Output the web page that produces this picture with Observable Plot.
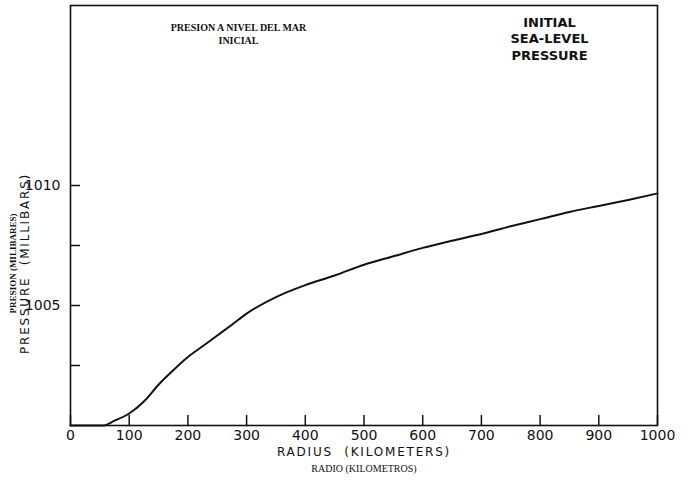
<!DOCTYPE html>
<html><head><meta charset="utf-8">
<script src="https://cdn.jsdelivr.net/npm/d3@7"></script>
<script src="https://cdn.jsdelivr.net/npm/@observablehq/plot@0.6"></script>
<style>body{margin:0;background:#fff} svg{display:block}</style>
</head><body><div id="chart"></div>
<script>
const radius = [0, 55, 75, 100, 125, 150, 175, 200, 225, 250, 275, 300, 350, 400, 450, 500, 550, 600, 650, 700, 750, 800, 850, 900, 950, 1000];
const pressure = [1000, 1000, 1000.2, 1000.5, 1001.0, 1001.7, 1002.3, 1002.85, 1003.3, 1003.75, 1004.2, 1004.66, 1005.35, 1005.85, 1006.25, 1006.7, 1007.05, 1007.4, 1007.7, 1007.98, 1008.3, 1008.6, 1008.9, 1009.15, 1009.4, 1009.67];
const xTickLabels = [0, 100, 200, 300, 400, 500, 600, 700, 800, 900, 1000];
const yTickValues = [1002.5, 1005, 1007.5, 1010];
const yTickLabels = [1005, 1010];
const xLabel = "RADIUS  (KILOMETERS)";
const xLabelEs = "RADIO (KILOMETROS)";
const yLabel = "PRESSURE  (MILLIBARS)";
const yLabelEs = "PRESION (MILIBARES)";
const noteEs = "PRESION A NIVEL DEL MAR\nINICIAL";
const noteEn = "INITIAL\nSEA-LEVEL\nPRESSURE";

const data = radius.map((r, i) => ({r, p: pressure[i]}));

const chart = Plot.plot({
  width: 691,
  height: 482,
  marginLeft: 70,
  marginRight: 34,
  marginTop: 5,
  marginBottom: 57,
  style: {fontFamily: "DejaVu Sans", color: "#111", background: "#fff", fontSize: "14px"},
  x: {domain: [0, 1000], ticks: xTickLabels, tickSize: -10, tickPadding: 15, tickFormat: d => String(d), label: null},
  y: {domain: [1000, 1017.5], ticks: yTickValues, tickSize: -10, tickPadding: 20, tickFormat: d => yTickLabels.includes(d) ? String(d) : "", label: null},
  marks: [
    Plot.frame({stroke: "#111", strokeWidth: 1.6}),
    Plot.line(data, {x: "r", y: "p", curve: "monotone-x", stroke: "#111", strokeWidth: 2}),
    Plot.text([xLabel], {text: d => d, frameAnchor: "bottom", dy: 30, fontSize: 12, fill: "#111"}),
    Plot.text([xLabelEs], {text: d => d, frameAnchor: "bottom", dy: 46, fontSize: 10, fontFamily: "Liberation Serif", fill: "#111"}),
    Plot.text([yLabel], {text: d => d, frameAnchor: "left", textAnchor: "middle", rotate: -90, dx: -45, dy: 48, fontSize: 12, fill: "#111"}),
    Plot.text([yLabelEs], {text: d => d, frameAnchor: "left", textAnchor: "middle", rotate: -90, dx: -57, dy: 48, fontSize: 9, fontWeight: "bold", fontFamily: "Liberation Serif", fill: "#111"}),
    Plot.text([noteEs], {text: d => d, frameAnchor: "top-left", textAnchor: "middle", dx: 168, dy: 16, fontSize: 10, fontWeight: "bold", fontFamily: "Liberation Serif", lineHeight: 1.3, fill: "#111"}),
    Plot.text([noteEn], {text: d => d, frameAnchor: "top-left", textAnchor: "middle", dx: 479, dy: 10, fontSize: 13, fontWeight: "bold", lineHeight: 1.25, fill: "#111"})
  ]
});
document.getElementById("chart").appendChild(chart);
d3.select(chart).selectAll("text").each(function() {
  const t = this.textContent;
  if (t.includes("KILOMETERS") || t.includes("MILLIBARS")) d3.select(this).style("letter-spacing", "1.8px");
});
d3.select(chart).selectAll("g[aria-label*='tick'] path").attr("stroke-width", 1.5);
</script>
</body></html>
